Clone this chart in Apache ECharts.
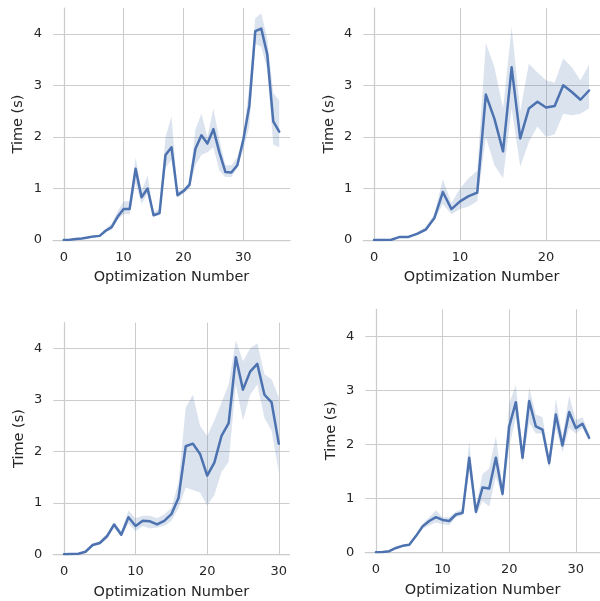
<!DOCTYPE html>
<html><head><meta charset="utf-8">
<script src="https://cdn.jsdelivr.net/npm/echarts@6/dist/echarts.min.js"></script>
<style>html,body{margin:0;padding:0;background:#fff}#c{width:600px;height:601px}</style>
</head><body><div id="c"></div>
<script>
const mean1 = [0,0.005,0.02,0.03,0.05,0.07,0.08,0.18,0.25,0.45,0.6,0.6,1.38,0.83,1.0,0.48,0.52,1.65,1.8,0.87,0.95,1.07,1.77,2.03,1.87,2.15,1.7,1.32,1.31,1.45,1.95,2.6,4.05,4.1,3.6,2.3,2.1];
const upper1 = [0,0.01,0.03,0.04,0.06,0.08,0.1,0.22,0.32,0.56,0.75,0.75,1.6,0.95,1.25,0.55,0.6,2.0,2.4,0.95,1.0,1.12,2.15,2.45,2.0,2.55,1.95,1.45,1.45,1.6,2.0,3.0,4.3,4.4,3.9,2.85,2.7];
const lower1 = [0,0,0.01,0.02,0.04,0.06,0.07,0.15,0.2,0.4,0.5,0.5,1.1,0.7,0.9,0.45,0.48,1.4,1.55,0.82,0.9,1.0,1.45,1.65,1.7,1.8,1.35,1.22,1.22,1.4,1.75,2.2,3.8,3.75,3.3,1.85,1.8];

const mean2 = [0,0,0.005,0.06,0.06,0.12,0.2,0.42,0.93,0.6,0.75,0.85,0.92,2.82,2.35,1.72,3.35,1.97,2.55,2.68,2.57,2.6,3.0,2.87,2.72,2.9];
const upper2 = [0,0,0.01,0.07,0.08,0.15,0.25,0.5,1.18,0.72,1.0,1.2,1.35,3.82,3.35,2.55,4.13,2.5,3.42,3.25,3.1,3.05,3.52,3.35,3.1,3.4];
const lower2 = [0,0,0,0.05,0.05,0.1,0.17,0.38,0.7,0.5,0.6,0.65,0.75,2.0,1.45,1.2,2.55,1.42,1.9,2.2,2.0,2.05,2.45,2.42,2.45,2.55];

const mean3 = [0,0.005,0.01,0.05,0.18,0.22,0.35,0.58,0.38,0.72,0.55,0.65,0.64,0.58,0.65,0.78,1.1,2.1,2.15,1.95,1.53,1.78,2.3,2.55,3.83,3.2,3.55,3.7,3.1,2.95,2.15];
const upper3 = [0,0.01,0.02,0.07,0.21,0.26,0.4,0.62,0.45,0.85,0.7,0.75,0.75,0.7,0.78,0.9,1.4,2.85,3.1,2.5,2.3,2.6,2.95,3.3,4.16,3.75,4.0,4.1,3.5,3.4,3.05];
const lower3 = [0,0,0.005,0.03,0.15,0.19,0.3,0.5,0.35,0.6,0.45,0.55,0.5,0.52,0.55,0.65,0.9,1.3,1.25,1.2,0.95,1.15,1.6,1.8,3.3,2.6,3.1,3.3,2.65,2.4,1.6];

const mean4 = [0,0.005,0.02,0.08,0.12,0.14,0.3,0.48,0.58,0.65,0.6,0.58,0.7,0.73,1.75,0.75,1.2,1.18,1.75,1.08,2.33,2.78,1.75,2.8,2.33,2.27,1.65,2.55,1.98,2.6,2.3,2.38,2.12];
const upper4 = [0,0.01,0.03,0.1,0.14,0.16,0.33,0.53,0.65,0.78,0.65,0.65,0.75,0.8,2.05,0.85,1.45,1.55,2.15,1.2,2.75,3.1,1.9,3.05,2.55,2.5,1.75,2.85,2.15,2.9,2.45,2.5,2.2];
const lower4 = [0,0,0.01,0.06,0.1,0.12,0.27,0.43,0.5,0.55,0.52,0.5,0.65,0.68,1.5,0.68,0.95,0.85,1.4,1.0,1.95,2.5,1.65,2.4,2.2,2.2,1.55,2.3,1.85,2.3,2.2,2.3,2.05];

const xLabel = 'Optimization Number';
const yLabel = 'Time (s)';

const panels = [
  {mean: mean1, upper: upper1, lower: lower1, grid: {left: 53, top: 8, width: 237, height: 232}},
  {mean: mean2, upper: upper2, lower: lower2, grid: {left: 363.3, top: 8, width: 236.5, height: 232}},
  {mean: mean3, upper: upper3, lower: lower3, grid: {left: 53.3, top: 322.7, width: 236.2, height: 231.6}},
  {mean: mean4, upper: upper4, lower: lower4, grid: {left: 365.3, top: 309.3, width: 234.5, height: 243}}
];

const color = '#4C72B0';
const bandColor = 'rgba(76,114,176,0.2)';
const textColor = '#262626';
const gridColor = '#cccccc';
const font = 'DejaVu Sans';

const grids = [], xAxes = [], yAxes = [], series = [];
panels.forEach((p, k) => {
  grids.push(Object.assign({containLabel: false}, p.grid));
  const n = p.mean.length;
  const margin = (n - 1) * 0.05;
  xAxes.push({
    type: 'value', gridIndex: k, min: -margin, max: (n - 1) + margin,
    minInterval: 10, maxInterval: 10, splitNumber: 3,
    name: xLabel, nameLocation: 'middle', nameGap: 30,
    nameTextStyle: {color: textColor, fontSize: 14.5, fontFamily: font},
    axisLine: {show: true, lineStyle: {color: gridColor, width: 1.25}},
    axisTick: {show: false},
    axisLabel: {color: textColor, fontSize: 13, fontFamily: font, margin: 11, showMinLabel: false, showMaxLabel: false},
    splitLine: {show: true, showMinLine: false, showMaxLine: false, lineStyle: {color: gridColor, width: 1}}
  });
  yAxes.push({
    type: 'value', gridIndex: k, min: 0, max: 4.5,
    minInterval: 1, maxInterval: 1, splitNumber: 5,
    name: yLabel, nameLocation: 'middle', nameGap: 27,
    nameTextStyle: {color: textColor, fontSize: 14.5, fontFamily: font},
    axisLine: {show: true, lineStyle: {color: gridColor, width: 1.25}},
    axisTick: {show: false},
    axisLabel: {color: textColor, fontSize: 13, fontFamily: font, margin: 11, showMaxLabel: false},
    splitLine: {show: true, showMinLine: false, showMaxLine: false, lineStyle: {color: gridColor, width: 1}}
  });
  const bandData = p.mean.map((v, i) => [i, p.lower[i], p.upper[i]]);
  series.push({
    type: 'custom', xAxisIndex: k, yAxisIndex: k, silent: true, animation: false,
    encode: {x: 0, y: [1, 2]},
    data: bandData,
    renderItem: function (params, api) {
      if (params.dataIndex !== 0) return;
      const pts = [];
      for (let i = 0; i < bandData.length; i++) pts.push(api.coord([bandData[i][0], bandData[i][2]]));
      for (let i = bandData.length - 1; i >= 0; i--) pts.push(api.coord([bandData[i][0], bandData[i][1]]));
      return {type: 'polygon', shape: {points: pts}, style: {fill: bandColor, stroke: null}};
    }
  });
  series.push({
    type: 'line', xAxisIndex: k, yAxisIndex: k, symbol: 'none', animation: false,
    lineStyle: {color: color, width: 2.5, join: 'round', cap: 'round'},
    data: p.mean.map((v, i) => [i, v])
  });
});

const chart = echarts.init(document.getElementById('c'), null, {renderer: 'canvas'});
chart.setOption({
  backgroundColor: '#ffffff',
  animation: false,
  grid: grids, xAxis: xAxes, yAxis: yAxes, series: series
});
</script>
</body></html>
